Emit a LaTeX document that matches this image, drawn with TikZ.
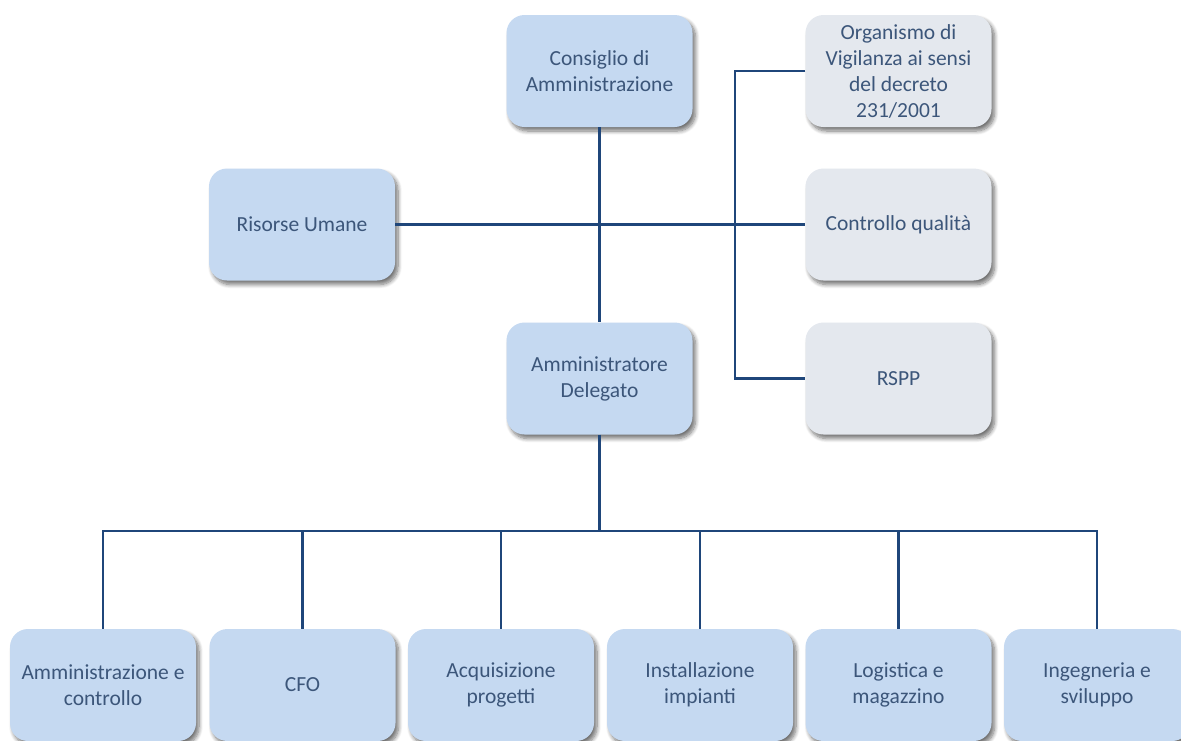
\documentclass[tikz,border=0pt]{standalone}
\usepackage{fontspec}
\setmainfont{Carlito}
\usetikzlibrary{shadows.blur}
\definecolor{boxblue}{RGB}{197,217,241}
\definecolor{boxgray}{RGB}{228,232,238}
\definecolor{txtc}{RGB}{60,86,122}
\definecolor{linec}{RGB}{31,70,122}
\begin{document}
\begin{tikzpicture}[x=1pt,y=-1pt,
  orgbox/.style={rounded corners=18pt, minimum width=186pt, minimum height=112pt,
    inner sep=2pt, align=center, text=txtc,
    font=\fontsize{21.5}{26}\selectfont,
    blur shadow={shadow xshift=3pt, shadow yshift=-4pt, shadow blur radius=4pt, shadow blur steps=8, shadow opacity=55}},
  bluebox/.style={orgbox, fill=boxblue},
  graybox/.style={orgbox, fill=boxgray},
  conn/.style={draw=linec, line width=2.2pt}]
\useasboundingbox (0,0) rectangle (1181,740);
\node[bluebox] (cda) at (599.5,71) {Consiglio di\\Amministrazione};
\node[graybox] (odv) at (898.5,71) {Organismo di\\Vigilanza ai sensi\\del decreto\\231/2001};
\node[bluebox] (ru) at (302,224.5) {Risorse Umane};
\node[graybox] (cq) at (898.5,224.5) {Controllo qualità};
\node[bluebox] (ad) at (599.5,378.5) {Amministratore\\Delegato};
\node[graybox] (rspp) at (898.5,378.5) {RSPP};
\node[bluebox] (b1) at (103,685) {Amministrazione e\\controllo};
\node[bluebox] (b2) at (302.5,685) {CFO};
\node[bluebox] (b3) at (501,685) {Acquisizione\\progetti};
\node[bluebox] (b4) at (700,685) {Installazione\\impianti};
\node[bluebox] (b5) at (898.5,685) {Logistica e\\magazzino};
\node[bluebox] (b6) at (1097,685) {Ingegneria e\\sviluppo};
\coordinate (j) at (735,0);
\coordinate (bus) at (599.5,531);
\draw[conn] (cda.south) -- (ad.north);
\draw[conn] (ru.east) -- (cq.west);
\draw[conn] (odv.west) -- (odv.west -| j) -- (rspp.west -| j) -- (rspp.west);
\draw[conn] (ad.south) -- (bus);
\draw[conn] (b1.north) -- (b1.north |- bus) -- (b6.north |- bus) -- (b6.north);
\draw[conn] (b2.north) -- (b2.north |- bus);
\draw[conn] (b3.north) -- (b3.north |- bus);
\draw[conn] (b4.north) -- (b4.north |- bus);
\draw[conn] (b5.north) -- (b5.north |- bus);
\end{tikzpicture}
\end{document}
